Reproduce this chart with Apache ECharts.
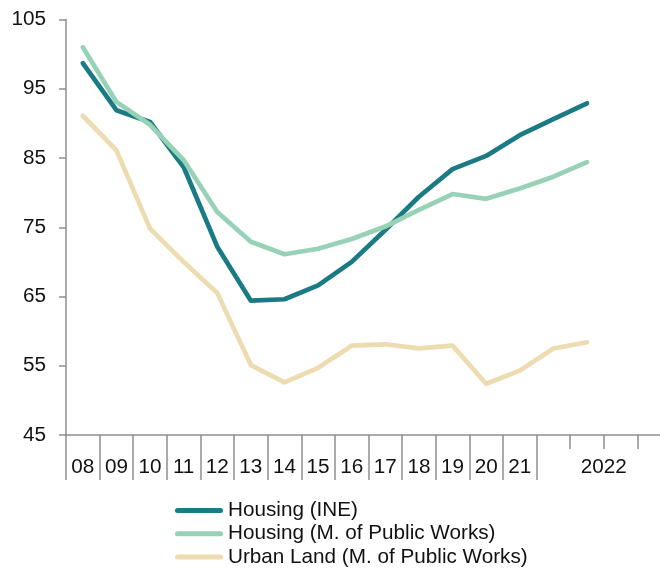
<!DOCTYPE html>
<html>
<head>
<meta charset="utf-8">
<title>Housing and urban land price indices</title>
<script src="https://cdn.jsdelivr.net/npm/echarts@6/dist/echarts.min.js"></script>
<style>
  html, body { margin: 0; padding: 0; background: #ffffff; overflow: hidden; }
  /* the canvas is a little wider than the view: the last 2022 quarter runs off the right edge */
  #chart { width: 672px; height: 570px; }
</style>
</head>
<body>
<div id="chart"></div>
<script>
// Periods: annual 2008-2021, then the four quarters of 2022
const categories = ['08', '09', '10', '11', '12', '13', '14', '15', '16', '17', '18', '19', '20', '21',
  '2022 Q1', '2022 Q2', '2022 Q3', '2022 Q4'];

// Axis labels shown under each period ('2022' spans the quarterly block)
const tickLabels = ['08', '09', '10', '11', '12', '13', '14', '15', '16', '17', '18', '19', '20', '21',
  '', '2022', '', ''];

const housingINE = [98.7, 91.9, 90.2, 83.7, 72.2, 64.4, 64.6, 66.6, 70.0, 74.6, 79.4, 83.4, 85.3, 88.3, 90.6, 92.9];
const housingMPW = [101.0, 93.1, 89.8, 84.7, 77.2, 72.9, 71.1, 71.9, 73.3, 75.1, 77.5, 79.8, 79.1, 80.6, 82.3, 84.4];
const urbanLand = [91.1, 86.1, 74.8, 70.0, 65.5, 55.1, 52.6, 54.7, 57.9, 58.1, 57.5, 57.9, 52.4, 54.3, 57.5, 58.4];

const yTicks = { min: 45, max: 105, step: 10 };

const FONT = 'Liberation Sans, Arial, sans-serif';
const FONT_SIZE = 20.7;
const AXIS_GREY = '#8f8f8f';
const TEXT = '#111111';
const QUARTER_START = categories.indexOf('2022 Q1');
// Rounded bar used as the legend key
const LEGEND_BAR = 'path://M2.5,0 L45.5,0 A2.5,2.5 0 0 1 45.5,5 L2.5,5 A2.5,2.5 0 0 1 2.5,0 Z';

const chart = echarts.init(document.getElementById('chart'), null, { renderer: 'canvas' });

const lineSeries = (name, data, color) => ({
  name,
  type: 'line',
  data,
  xAxisIndex: 0,
  showSymbol: false,
  symbol: 'none',
  animation: false,
  lineStyle: { color, width: 4.7, cap: 'round', join: 'round' },
  itemStyle: { color }
});

chart.setOption({
  animation: false,
  grid: { left: 66, top: 19.5, bottom: 135, right: 1, containLabel: false },
  legend: {
    orient: 'vertical',
    left: 175,
    top: 500,
    padding: 0,
    itemWidth: 48,
    itemHeight: 20,
    itemGap: 2.2,
    icon: LEGEND_BAR,
    textStyle: { fontFamily: FONT, fontSize: FONT_SIZE, color: TEXT },
    data: ['Housing (INE)', 'Housing (M. of Public Works)', 'Urban Land (M. of Public Works)']
  },
  xAxis: [
    {
      type: 'category',
      data: categories,
      boundaryGap: true,
      axisLine: { show: true, lineStyle: { color: AXIS_GREY, width: 1.5 } },
      axisTick: {
        show: true,
        length: 45,
        interval: (i) => i <= QUARTER_START,
        lineStyle: { color: AXIS_GREY, width: 1.5 }
      },
      axisLabel: {
        interval: 0,
        margin: 22,
        fontFamily: FONT,
        fontSize: FONT_SIZE,
        color: TEXT,
        formatter: (value, i) => {
          const t = tickLabels[i];
          if (t === '2022') return '{sp|}{q|' + t + '}';
          return t;
        },
        rich: {
          sp: { width: 33.6 },
          q: { fontFamily: FONT, fontSize: FONT_SIZE, color: TEXT }
        }
      },
      splitLine: { show: false }
    },
    {
      type: 'category',
      data: categories,
      boundaryGap: true,
      position: 'bottom',
      axisLine: { show: false },
      axisTick: { show: true, length: 14, interval: 0, lineStyle: { color: AXIS_GREY, width: 1.5 } },
      axisLabel: { show: false },
      splitLine: { show: false }
    }
  ],
  yAxis: {
    type: 'value',
    min: yTicks.min,
    max: yTicks.max,
    interval: yTicks.step,
    axisLine: { show: true, lineStyle: { color: AXIS_GREY, width: 1.5 } },
    axisTick: { show: true, inside: false, length: 7, lineStyle: { color: AXIS_GREY, width: 1.5 } },
    axisLabel: { margin: 20, fontFamily: FONT, fontSize: FONT_SIZE, color: TEXT },
    splitLine: { show: false }
  },
  series: [
    lineSeries('Housing (INE)', housingINE, '#1b7b84'),
    lineSeries('Housing (M. of Public Works)', housingMPW, '#98d2b6'),
    lineSeries('Urban Land (M. of Public Works)', urbanLand, '#eedcb1')
  ]
});
</script>
</body>
</html>
